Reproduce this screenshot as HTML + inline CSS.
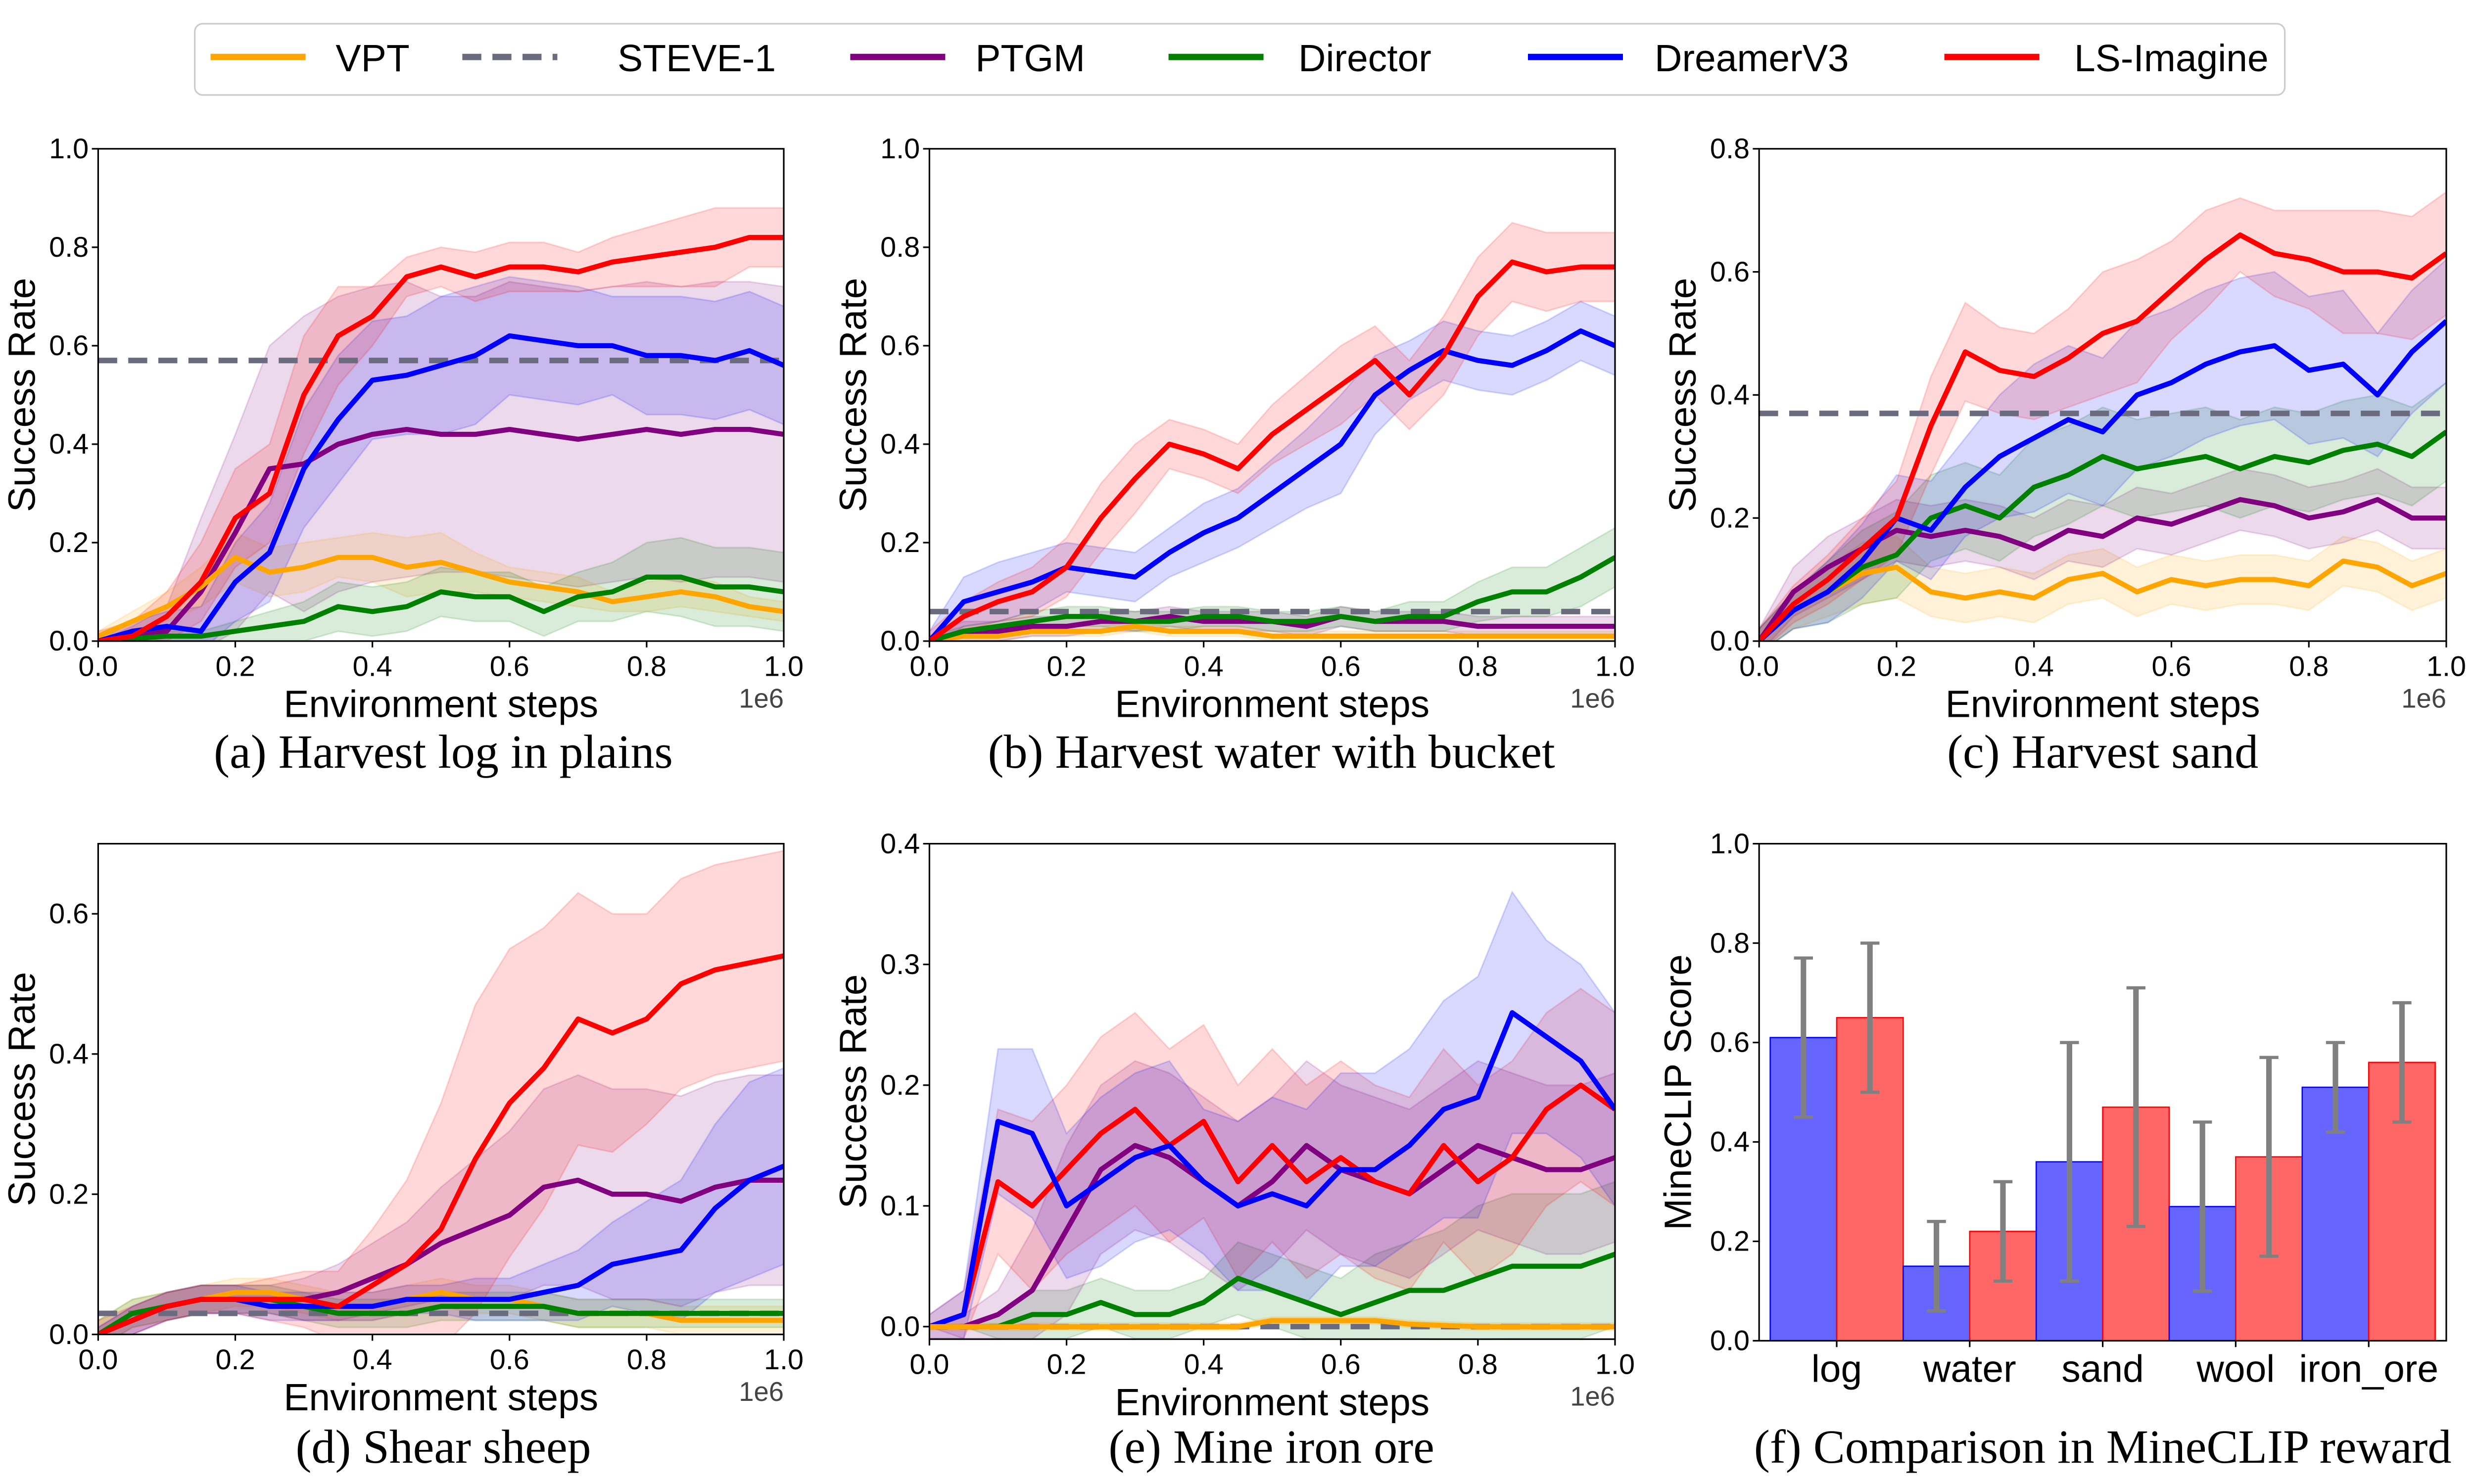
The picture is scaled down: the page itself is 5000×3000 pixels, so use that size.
<!DOCTYPE html>
<html><head><meta charset="utf-8"><style>
html,body{margin:0;padding:0;background:#fff;}
svg{display:block;}
text{font-family:"Liberation Sans","DejaVu Sans",sans-serif;}
.cap{font-family:"Liberation Serif",serif;}
</style></head><body>
<svg id="fig" xmlns="http://www.w3.org/2000/svg" width="5000" height="3000" viewBox="0 0 1562.5 937.5">
<g id="legend"></g>
</svg>
<script>
const xs = [0,0.05,0.1,0.15,0.2,0.25,0.3,0.35,0.4,0.45,0.5,0.55,0.6,0.65,0.7,0.75,0.8,0.85,0.9,0.95,1.0];
const seriesNames = ["VPT","STEVE-1","PTGM","Director","DreamerV3","LS-Imagine"];
const seriesColors = ["#ffa500","#6b6b80","#800080","#008000","#0000ff","#ff0000"];

// Panel a
const aLS=[0,0.01,0.05,0.12,0.25,0.30,0.50,0.62,0.66,0.74,0.76,0.74,0.76,0.76,0.75,0.77,0.78,0.79,0.80,0.82,0.82];
const aLSb=[0.02,0.03,0.05,0.08,0.1,0.1,0.12,0.1,0.06,0.04,0.04,0.05,0.05,0.05,0.04,0.05,0.06,0.07,0.08,0.06,0.06];
const aDV=[0,0.02,0.03,0.02,0.12,0.18,0.35,0.45,0.53,0.54,0.56,0.58,0.62,0.61,0.60,0.60,0.58,0.58,0.57,0.59,0.56];
const aDVb=[0,0.02,0.03,0.05,0.08,0.1,0.12,0.13,0.12,0.12,0.14,0.14,0.12,0.12,0.12,0.1,0.12,0.12,0.12,0.12,0.12];
const aPT=[0,0.01,0.02,0.10,0.22,0.35,0.36,0.40,0.42,0.43,0.42,0.42,0.43,0.42,0.41,0.42,0.43,0.42,0.43,0.43,0.42];
const aPTb=[0,0.02,0.05,0.15,0.2,0.25,0.3,0.3,0.3,0.3,0.28,0.28,0.3,0.3,0.3,0.3,0.3,0.3,0.3,0.3,0.3];
const aVP=[0.01,0.04,0.07,0.11,0.17,0.14,0.15,0.17,0.17,0.15,0.16,0.14,0.12,0.11,0.10,0.08,0.09,0.10,0.09,0.07,0.06];
const aVPb=[0.01,0.02,0.03,0.04,0.05,0.05,0.05,0.04,0.05,0.06,0.06,0.04,0.03,0.03,0.03,0.02,0.03,0.03,0.03,0.02,0.02];
const aDI=[0,0.005,0.01,0.01,0.02,0.03,0.04,0.07,0.06,0.07,0.10,0.09,0.09,0.06,0.09,0.10,0.13,0.13,0.11,0.11,0.10];
const aDIb=[0,0,0.01,0.01,0.02,0.03,0.04,0.05,0.05,0.05,0.05,0.05,0.05,0.05,0.05,0.06,0.07,0.08,0.08,0.08,0.08];
const aST=0.57;
// Panel b
const bLS=[0,0.05,0.08,0.10,0.15,0.25,0.33,0.40,0.38,0.35,0.42,0.47,0.52,0.57,0.50,0.58,0.70,0.77,0.75,0.76,0.76];
const bLSb=[0.02,0.03,0.04,0.05,0.06,0.07,0.07,0.05,0.05,0.05,0.06,0.07,0.08,0.07,0.07,0.08,0.08,0.08,0.08,0.07,0.07];
const bDV=[0,0.08,0.10,0.12,0.15,0.14,0.13,0.18,0.22,0.25,0.30,0.35,0.40,0.50,0.55,0.59,0.57,0.56,0.59,0.63,0.60];
const bDVb=[0.02,0.05,0.06,0.06,0.05,0.05,0.05,0.05,0.06,0.06,0.07,0.08,0.1,0.08,0.06,0.06,0.06,0.06,0.06,0.06,0.06];
const bDI=[0,0.02,0.03,0.04,0.05,0.05,0.04,0.04,0.05,0.05,0.04,0.04,0.05,0.04,0.05,0.05,0.08,0.10,0.10,0.13,0.17];
const bDIb=[0.01,0.01,0.01,0.02,0.02,0.02,0.02,0.02,0.02,0.02,0.02,0.02,0.02,0.02,0.03,0.03,0.04,0.05,0.05,0.06,0.06];
const bPT=[0,0.02,0.02,0.03,0.03,0.04,0.04,0.05,0.04,0.04,0.04,0.03,0.05,0.04,0.04,0.04,0.03,0.03,0.03,0.03,0.03];
const bPTb=[0.01,0.02,0.02,0.02,0.02,0.02,0.02,0.02,0.02,0.02,0.02,0.02,0.02,0.02,0.02,0.02,0.02,0.02,0.02,0.02,0.02];
const bVP=[0,0.01,0.01,0.02,0.02,0.02,0.03,0.02,0.02,0.02,0.01,0.01,0.01,0.01,0.01,0.01,0.01,0.01,0.01,0.01,0.01];
const bVPb=[0.01,0.01,0.01,0.01,0.01,0.01,0.01,0.01,0.01,0.01,0.01,0.01,0.01,0.01,0.01,0.01,0.01,0.01,0.01,0.01,0.01];
const bST=0.06;
// Panel c
const cLS=[0,0.06,0.10,0.15,0.20,0.35,0.47,0.44,0.43,0.46,0.50,0.52,0.57,0.62,0.66,0.63,0.62,0.60,0.60,0.59,0.63];
const cLSb=[0.02,0.03,0.04,0.05,0.06,0.08,0.08,0.07,0.07,0.08,0.1,0.1,0.08,0.08,0.06,0.07,0.08,0.1,0.1,0.1,0.1];
const cDV=[0,0.05,0.08,0.13,0.20,0.18,0.25,0.30,0.33,0.36,0.34,0.40,0.42,0.45,0.47,0.48,0.44,0.45,0.40,0.47,0.52];
const cDVb=[0.02,0.03,0.05,0.06,0.07,0.08,0.08,0.1,0.12,0.12,0.12,0.12,0.12,0.12,0.12,0.12,0.12,0.12,0.1,0.1,0.1];
const cDI=[0,0.05,0.08,0.12,0.14,0.20,0.22,0.20,0.25,0.27,0.30,0.28,0.29,0.30,0.28,0.30,0.29,0.31,0.32,0.30,0.34];
const cDIb=[0.02,0.03,0.05,0.06,0.07,0.07,0.07,0.07,0.08,0.08,0.08,0.08,0.08,0.08,0.08,0.08,0.08,0.08,0.08,0.08,0.08];
const cPT=[0,0.08,0.12,0.15,0.18,0.17,0.18,0.17,0.15,0.18,0.17,0.20,0.19,0.21,0.23,0.22,0.20,0.21,0.23,0.20,0.20];
const cPTb=[0.02,0.04,0.05,0.05,0.05,0.05,0.05,0.05,0.05,0.05,0.05,0.05,0.05,0.05,0.05,0.05,0.05,0.05,0.05,0.05,0.05];
const cVP=[0,0.05,0.08,0.11,0.12,0.08,0.07,0.08,0.07,0.10,0.11,0.08,0.10,0.09,0.10,0.10,0.09,0.13,0.12,0.09,0.11];
const cVPb=[0.02,0.03,0.04,0.05,0.05,0.04,0.04,0.04,0.04,0.04,0.04,0.04,0.04,0.04,0.04,0.04,0.04,0.04,0.04,0.04,0.04];
const cST=0.37;
// Panel d
const dLS=[0,0.02,0.04,0.05,0.05,0.05,0.05,0.04,0.07,0.10,0.15,0.25,0.33,0.38,0.45,0.43,0.45,0.50,0.52,0.53,0.54];
const dLSb=[0.02,0.02,0.02,0.02,0.02,0.03,0.04,0.05,0.08,0.12,0.18,0.22,0.22,0.2,0.18,0.17,0.15,0.15,0.15,0.15,0.15];
const dDV=[0,0.02,0.04,0.05,0.05,0.04,0.04,0.04,0.04,0.05,0.05,0.05,0.05,0.06,0.07,0.10,0.11,0.12,0.18,0.22,0.24];
const dDVb=[0.01,0.02,0.02,0.02,0.02,0.02,0.02,0.02,0.02,0.02,0.02,0.03,0.03,0.04,0.05,0.06,0.08,0.1,0.12,0.14,0.14];
const dPT=[0,0.02,0.04,0.05,0.05,0.05,0.05,0.06,0.08,0.10,0.13,0.15,0.17,0.21,0.22,0.20,0.20,0.19,0.21,0.22,0.22];
const dPTb=[0.01,0.02,0.02,0.02,0.02,0.02,0.03,0.04,0.05,0.06,0.08,0.1,0.12,0.14,0.15,0.15,0.15,0.15,0.15,0.15,0.15];
const dDI=[0,0.03,0.04,0.05,0.05,0.05,0.04,0.03,0.03,0.03,0.04,0.04,0.04,0.04,0.03,0.03,0.03,0.03,0.03,0.03,0.03];
const dDIb=[0.02,0.02,0.02,0.02,0.02,0.02,0.02,0.02,0.02,0.02,0.02,0.02,0.02,0.02,0.02,0.02,0.02,0.02,0.02,0.02,0.02];
const dVP=[0,0.03,0.04,0.05,0.06,0.06,0.05,0.04,0.04,0.05,0.06,0.05,0.05,0.04,0.03,0.03,0.03,0.02,0.02,0.02,0.02];
const dVPb=[0.02,0.02,0.02,0.02,0.02,0.02,0.02,0.02,0.02,0.02,0.02,0.02,0.02,0.02,0.02,0.02,0.02,0.02,0.02,0.02,0.02];
const dST=0.03;
// Panel e
const eDV=[0,0.01,0.17,0.16,0.10,0.12,0.14,0.15,0.12,0.10,0.11,0.10,0.13,0.13,0.15,0.18,0.19,0.26,0.24,0.22,0.18];
const eDVb=[0.01,0.02,0.06,0.07,0.06,0.07,0.07,0.07,0.06,0.07,0.08,0.08,0.08,0.08,0.08,0.09,0.1,0.1,0.08,0.08,0.08];
const eLS=[0,0.01,0.12,0.10,0.13,0.16,0.18,0.15,0.17,0.12,0.15,0.12,0.14,0.12,0.11,0.15,0.12,0.14,0.18,0.20,0.18];
const eLSb=[0.01,0.02,0.06,0.07,0.07,0.08,0.08,0.08,0.08,0.08,0.08,0.08,0.08,0.08,0.08,0.08,0.08,0.08,0.08,0.08,0.08];
const ePT=[0,0,0.01,0.03,0.08,0.13,0.15,0.14,0.12,0.10,0.12,0.15,0.13,0.12,0.11,0.13,0.15,0.14,0.13,0.13,0.14];
const ePTb=[0,0.01,0.02,0.05,0.07,0.07,0.07,0.07,0.07,0.07,0.07,0.07,0.07,0.07,0.07,0.07,0.07,0.07,0.07,0.07,0.07];
const eDI=[0,0,0,0.01,0.01,0.02,0.01,0.01,0.02,0.04,0.03,0.02,0.01,0.02,0.03,0.03,0.04,0.05,0.05,0.05,0.06];
const eDIb=[0,0,0.01,0.02,0.02,0.02,0.02,0.02,0.02,0.03,0.03,0.03,0.03,0.04,0.04,0.05,0.06,0.06,0.06,0.06,0.06];
const eVP=[0,0,0,0,0,0,0,0,0,0,0.005,0.005,0.005,0.005,0.002,0.001,0,0,0,0,0];
const eVPb=[0.003,0.003,0.003,0.003,0.003,0.003,0.003,0.003,0.003,0.003,0.003,0.003,0.003,0.003,0.003,0.003,0.003,0.003,0.003,0.003,0.003];
const eST=0;
// Panel f
const fCats=["log","water","sand","wool","iron_ore"];
const fDV=[0.61,0.15,0.36,0.27,0.51];
const fDVlo=[0.45,0.06,0.12,0.10,0.42];
const fDVhi=[0.77,0.24,0.60,0.44,0.60];
const fLS=[0.65,0.22,0.47,0.37,0.56];
const fLSlo=[0.50,0.12,0.23,0.17,0.44];
const fLShi=[0.80,0.32,0.71,0.57,0.68];
const fTicks=[0,0.2,0.4,0.6,0.8,1.0];

const NS="http://www.w3.org/2000/svg";
const svg=document.getElementById('fig');
function mk(tag,attrs,parent){const e=document.createElementNS(NS,tag);for(const k in attrs)e.setAttribute(k,attrs[k]);(parent||svg).appendChild(e);return e;}

// Legend
const lg=document.getElementById('legend');
mk('rect',{x:123,y:15,width:1320,height:45,rx:5,fill:'#fff',stroke:'#ccc','stroke-width':1},lg);
const legX=[133,292,537,738,965,1228];
const legTX=[212,390,616,820,1045,1310];
seriesNames.forEach((n,i)=>{
  const l=mk('line',{x1:legX[i],x2:legX[i]+60,y1:36,y2:36,stroke:seriesColors[i],'stroke-width':4,'stroke-dasharray':i==1?'12,7':'none'},lg);
  
  
  const t=mk('text',{x:legTX[i],y:45,'font-size':24,fill:'#000'},lg);
  t.textContent=n;
  
  
});

function fmt(v){return v.toFixed(1);}

function linePanel(p){
  const g=mk('g',{});
  
  
  const X=v=>p.x0+(p.x1-p.x0)*v;
  const Y=v=>p.yb-(p.yb-p.yt)*(v-p.ymin)/(p.ymax-p.ymin);
  const cid='clip'+p.id;
  const cp=mk('clipPath',{id:cid},g);
  mk('rect',{x:p.x0,y:p.yt,width:p.x1-p.x0,height:p.yb-p.yt},cp);
  const pg=mk('g',{'clip-path':'url(#'+cid+')'},g);
  p.series.forEach(s=>{
    let d='';
    xs.forEach((x,i)=>{d+=(i?'L':'M')+X(x).toFixed(2)+','+Y(s.m[i]+s.b[i]).toFixed(2);});
    for(let i=xs.length-1;i>=0;i--)d+='L'+X(xs[i]).toFixed(2)+','+Y(Math.max(s.m[i]-s.b[i],p.ymin<0?p.ymin:-0.02)).toFixed(2);
    const b=mk('path',{d:d+'Z',fill:seriesColors[s.c],'fill-opacity':0.15,stroke:seriesColors[s.c],'stroke-opacity':0.15},pg);
    
    
  });
  const st=mk('line',{x1:p.x0,x2:p.x1,y1:Y(p.steve),y2:Y(p.steve),stroke:seriesColors[1],'stroke-width':3.5,'stroke-dasharray':'12,7'},pg);
  
  
  p.series.forEach(s=>{
    const pts=xs.map((x,i)=>X(x).toFixed(2)+','+Y(s.m[i]).toFixed(2)).join(' ');
    const l=mk('polyline',{points:pts,fill:'none',stroke:seriesColors[s.c],'stroke-width':3.2,'stroke-linejoin':'round'},pg);
    
    
  });
  mk('rect',{x:p.x0,y:p.yt,width:p.x1-p.x0,height:p.yb-p.yt,fill:'none',stroke:'#000','stroke-width':1},g);
  [0,0.2,0.4,0.6,0.8,1.0].forEach(v=>{
    mk('line',{x1:X(v),x2:X(v),y1:p.yb,y2:p.yb+4,stroke:'#000','stroke-width':1},g);
    const t=mk('text',{x:X(v),y:p.yb+22,'font-size':18,'text-anchor':'middle'},g);t.textContent=fmt(v);
    
    
  });
  p.yticks.forEach(v=>{
    mk('line',{x1:p.x0-4,x2:p.x0,y1:Y(v),y2:Y(v),stroke:'#000','stroke-width':1},g);
    const t=mk('text',{x:p.x0-6,y:Y(v)+6,'font-size':18,'text-anchor':'end'},g);t.textContent=fmt(v);
    
    
  });
  const xt=mk('text',{x:(p.x0+p.x1)/2,y:p.yb+48,'font-size':24,'text-anchor':'middle'},g);xt.textContent='Environment steps';
  
  
  const e6=mk('text',{x:p.x1,y:p.yb+42,'font-size':17,'text-anchor':'end',fill:'#444'},g);e6.textContent='1e6';
  
  
  const cy=(p.yt+p.yb)/2;
  const yt=mk('text',{x:0,y:0,'font-size':24,'text-anchor':'middle',transform:'translate('+(p.x0-40)+','+cy+') rotate(-90)'},g);yt.textContent='Success Rate';
  
  
  const cap=mk('text',{x:p.capx,y:p.capy,'font-size':30,'text-anchor':'middle',class:'cap'},g);cap.textContent=p.cap;
  
  
}
const ser=(c,m,b)=>({c,m,b});
linePanel({id:'a',name:'panel-a',x0:62,x1:495,yt:94,yb:405,ymin:0,ymax:1,yticks:[0,0.2,0.4,0.6,0.8,1.0],steve:aST,capx:280,capy:485,cap:'(a) Harvest log in plains',
 series:[ser(2,aPT,aPTb),ser(0,aVP,aVPb),ser(3,aDI,aDIb),ser(4,aDV,aDVb),ser(5,aLS,aLSb)]});
linePanel({id:'b',name:'panel-b',x0:587,x1:1020,yt:94,yb:405,ymin:0,ymax:1,yticks:[0,0.2,0.4,0.6,0.8,1.0],steve:bST,capx:803,capy:485,cap:'(b) Harvest water with bucket',
 series:[ser(0,bVP,bVPb),ser(2,bPT,bPTb),ser(3,bDI,bDIb),ser(4,bDV,bDVb),ser(5,bLS,bLSb)]});
linePanel({id:'c',name:'panel-c',x0:1111,x1:1545,yt:94,yb:405,ymin:0,ymax:0.8,yticks:[0,0.2,0.4,0.6,0.8],steve:cST,capx:1328,capy:485,cap:'(c) Harvest sand',
 series:[ser(0,cVP,cVPb),ser(2,cPT,cPTb),ser(3,cDI,cDIb),ser(4,cDV,cDVb),ser(5,cLS,cLSb)]});
linePanel({id:'d',name:'panel-d',x0:62,x1:495,yt:533,yb:843,ymin:0,ymax:0.7,yticks:[0,0.2,0.4,0.6],steve:dST,capx:280,capy:924,cap:'(d) Shear sheep',
 series:[ser(0,dVP,dVPb),ser(3,dDI,dDIb),ser(2,dPT,dPTb),ser(4,dDV,dDVb),ser(5,dLS,dLSb)]});
linePanel({id:'e',name:'panel-e',x0:587,x1:1020,yt:533,yb:846,ymin:-0.0104,ymax:0.4,yticks:[0,0.1,0.2,0.3,0.4],steve:eST,capx:803,capy:924,cap:'(e) Mine iron ore',
 series:[ser(3,eDI,eDIb),ser(2,ePT,ePTb),ser(5,eLS,eLSb),ser(4,eDV,eDVb),ser(0,eVP,eVPb)]});

(function(){
  const g=mk('g',{});
  
  
  const x0=1111,x1=1545,yt=533,yb=847;
  const Y=v=>yb-(yb-yt)*v;
  const step=84, first=1160, bw=42;
  const CX=i=>first+step*i;
  fCats.forEach((c,i)=>{
    const bb=mk('rect',{x:CX(i)-bw,y:Y(fDV[i]),width:bw,height:yb-Y(fDV[i]),fill:'#6666ff',stroke:'#0000ff','stroke-width':0.8},g);
    
    
    const rb=mk('rect',{x:CX(i),y:Y(fLS[i]),width:bw,height:yb-Y(fLS[i]),fill:'#ff6666',stroke:'#ff0000','stroke-width':0.8},g);
    
    
    [[CX(i)-bw/2,fDVlo[i],fDVhi[i]],[CX(i)+bw/2,fLSlo[i],fLShi[i]]].forEach(([x,lo,hi])=>{
      const e=mk('g',{stroke:'#808080','stroke-width':3.5},g);
      
      
      mk('line',{x1:x,x2:x,y1:Y(lo),y2:Y(hi)},e);
      mk('line',{x1:x-6,x2:x+6,y1:Y(lo),y2:Y(lo),'stroke-width':2},e);
      mk('line',{x1:x-6,x2:x+6,y1:Y(hi),y2:Y(hi),'stroke-width':2},e);
    });
    mk('line',{x1:CX(i),x2:CX(i),y1:yb,y2:yb+4,stroke:'#000'},g);
    const t=mk('text',{x:CX(i),y:yb+26,'font-size':24,'text-anchor':'middle'},g);t.textContent=c;
    
    
  });
  mk('rect',{x:x0,y:yt,width:x1-x0,height:yb-yt,fill:'none',stroke:'#000','stroke-width':1},g);
  fTicks.forEach(v=>{
    mk('line',{x1:x0-4,x2:x0,y1:Y(v),y2:Y(v),stroke:'#000'},g);
    const t=mk('text',{x:x0-6,y:Y(v)+6,'font-size':18,'text-anchor':'end'},g);t.textContent=v.toFixed(1);
    
    
  });
  const yt2=mk('text',{x:0,y:0,'font-size':24,'text-anchor':'middle',transform:'translate(1068,690) rotate(-90)'},g);yt2.textContent='MineCLIP Score';
  
  
  const cap=mk('text',{x:1328,y:924,'font-size':30,'text-anchor':'middle',class:'cap'},g);cap.textContent='(f) Comparison in MineCLIP reward';
  
  
})();
</script>
</body></html>
